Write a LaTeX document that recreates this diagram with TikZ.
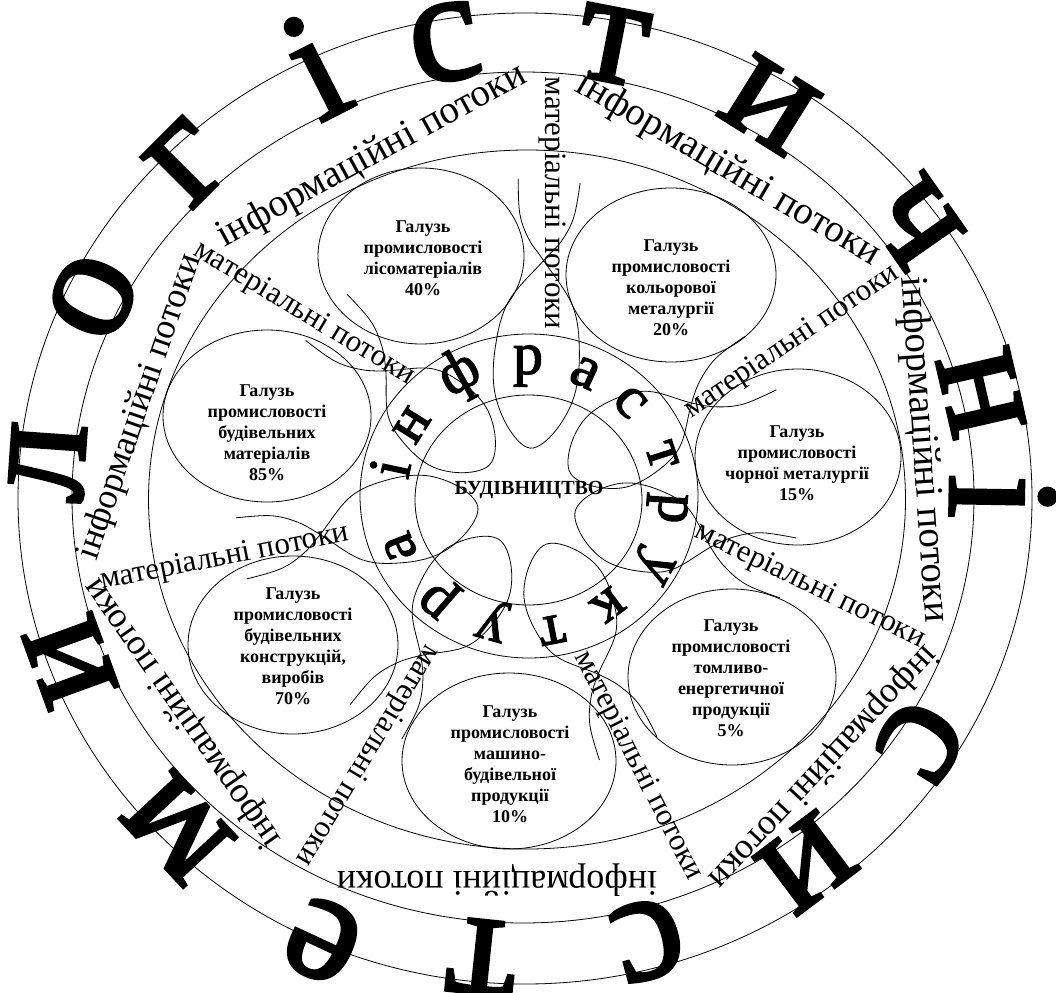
\documentclass[tikz,border=0pt]{standalone}
\usepackage{fontspec}
\setmainfont{Liberation Serif}
\newfontfamily\heavyser{Liberation Serif}[FakeBold=2]
\newcommand{\alphaloop}[2]{%
  \pgfmathsetmacro{\lpF}{(#2-50)/188}%
  \pgfmathsetmacro{\lpA}{50+145*\lpF}%
  \pgfmathsetmacro{\lpB}{50+100*\lpF}%
  \pgfmathsetmacro{\lpC}{50+55*\lpF}%
  \pgfmathsetmacro{\lpD}{50+18*\lpF}%
  \pgfmathsetmacro{\lpR}{#2+20}%
  \pgfmathsetmacro{\lpS}{#2+45}%
  \pgfmathsetmacro{\lpT}{#2+80}%
  \begin{scope}[shift={(527,498)}, rotate=#1]
    \draw[petal] plot[smooth, tension=0.6] coordinates {(\lpT,31) (\lpS,27) (\lpR,16) (#2,0) (\lpA,-32) (\lpB,-42) (\lpC,-40) (\lpD,-23) (50,0) (\lpD,23) (\lpC,40) (\lpB,42) (\lpA,32) (#2,0) (\lpR,-16) (\lpS,-27) (\lpT,-31)};
  \end{scope}}
\begin{document}
\begin{tikzpicture}[x=1pt,y=-1pt, line width=0.8pt,
  branch/.style={align=center, font=\bfseries\fontsize{18}{21}\selectfont, inner sep=0},
  big/.style={font=\heavyser\fontsize{160}{160}\selectfont, inner sep=0},
  infra/.style={font=\heavyser\fontsize{60}{60}\selectfont, inner sep=0},
  mat/.style={font=\fontsize{31}{31}\selectfont, inner sep=0},
  info/.style={font=\fontsize{36}{36}\selectfont, inner sep=0},
  infol/.style={font=\fontsize{39}{39}\selectfont, inner sep=0},
  petal/.style={line width=0.8pt}
]
\useasboundingbox (0,0) rectangle (1056,992);
% concentric rings
\draw (525,498.5) ellipse [x radius=507, y radius=485.5];
\draw (523,497.5) ellipse [x radius=451, y radius=425.5];
\draw (527,499.5) ellipse [x radius=378.5, y radius=349.5];
\draw (529,496) ellipse [x radius=169, y radius=162];
\draw (528.5,500) ellipse [x radius=113.5, y radius=105];
% branch ellipses
\draw (421,256) ellipse [x radius=103, y radius=88];
\draw (671,275) ellipse [x radius=105, y radius=87];
\draw (798,457) ellipse [x radius=103, y radius=88];
\draw (732,677) ellipse [x radius=104, y radius=88];
\draw (509,761) ellipse [x radius=107, y radius=88];
\draw (293,645) ellipse [x radius=105, y radius=89];
\draw (267,416) ellipse [x radius=104, y radius=86];
% loops
\alphaloop{86}{238}
\alphaloop{138}{190}
\alphaloop{190}{210}
\alphaloop{-124}{190}
\alphaloop{-68}{190}
\alphaloop{-15}{190}
\alphaloop{30}{190}
% branch texts
\node[branch] (b1) at (423,258) {Галузь\\промисловості\\лісоматеріалів\\40\%};
\node[branch] (b2) at (671,288) {Галузь\\промисловості\\кольорової\\металургії\\20\%};
\node[branch] (b3) at (797,463) {Галузь\\промисловості\\чорної металургії\\15\%};
\node[branch] (b4) at (731,678) {Галузь\\промисловості\\томливо-\\енергетичної\\продукції\\5\%};
\node[branch] (b5) at (510,764) {Галузь\\промисловості\\машино-\\будівельної\\продукції\\10\%};
\node[branch] (b6) at (293,646) {Галузь\\промисловості\\будівельних\\конструкцій,\\виробів\\70\%};
\node[branch] (b7) at (267,433) {Галузь\\промисловості\\будівельних\\матеріалів\\85\%};
\node[font=\bfseries\fontsize{20}{20}\selectfont, inner sep=0] (bud) at (529,490) {БУДІВНИЦТВО};
% material flows
\node[mat, rotate=-90] (m1) at (552,203) {матеріальні потоки};
\node[mat, rotate=-31] (m2) at (304,314) {матеріальні потоки};
\node[mat, rotate=34] (m3) at (792,342) {матеріальні потоки};
\node[mat, rotate=-26] (m4) at (810,586) {матеріальні потоки};
\node[mat, rotate=-63] (m5) at (638,766) {матеріальні потоки};
\node[mat, rotate=-121] (m6) at (367,755) {матеріальні потоки};
\node[mat, rotate=11] (m7) at (225,558) {матеріальні потоки};
% information flows
\node[infol, rotate=28.6] (i1) at (372,156) {інформаційні потоки};
\node[infol, rotate=-30.5] (i2) at (728,170) {інформаційні потоки};
\node[infol, rotate=-86] (i3) at (923,450) {інформаційні потоки};
\node[info, rotate=-133] (i4) at (823,766) {інформаційні потоки};
\node[info, rotate=180] (i5) at (497,880) {інформаційні потоки};
\node[info, rotate=125] (i6) at (183,713) {інформаційні потоки};
\node[info, rotate=71] (i7) at (140,407) {інформаційні потоки};
% outer big letters
\node[big, rotate=86] (L1) at (48,462) {л};
\node[big, rotate=65] (L2) at (93,297) {о};
\node[big, rotate=45] (L3) at (188,162) {г};
\node[big, rotate=27] (L4) at (315,66) {і};
\node[big, rotate=10] (L5) at (445,43) {с};
\node[big, rotate=-11] (L6) at (613,45) {т};
\node[big, rotate=-32] (L7) at (770,105) {и};
\node[big, rotate=-55] (L8) at (915,222) {ч};
\node[big, rotate=-77] (L9) at (981,393) {н};
\node[big, rotate=-91] (L10) at (1003,497) {і};
\node[big, rotate=-122] (L11) at (921,741) {с};
\node[big, rotate=-143] (L12) at (806,863) {и};
\node[big, rotate=-165] (L13) at (648,940) {с};
\node[big, rotate=-186] (L14) at (482,957) {т};
\node[big, rotate=-205] (L15) at (323,941) {е};
\node[big, rotate=-227] (L16) at (178,828) {м};
\node[big, rotate=-250] (L17) at (70,661) {и};
% infrastructure letters
\node[infra, rotate=78] (f1) at (390,468) {і};
\node[infra, rotate=58] (f2) at (412,425) {н};
\node[infra, rotate=29] (f3) at (460,375) {ф};
\node[infra, rotate=0] (f4) at (528,366) {р};
\node[infra, rotate=-25] (f5) at (585,373) {а};
\node[infra, rotate=-47] (f6) at (630,402) {с};
\node[infra, rotate=-72] (f7) at (662,455) {т};
\node[infra, rotate=-94] (f8) at (667,508) {р};
\node[infra, rotate=-118] (f9) at (652,565) {у};
\node[infra, rotate=-143] (f10) at (608,605) {к};
\node[infra, rotate=-169] (f11) at (552,630) {т};
\node[infra, rotate=-196] (f12) at (493,620) {у};
\node[infra, rotate=-221] (f13) at (440,597) {р};
\node[infra, rotate=-249] (f14) at (400,547) {а};
\end{tikzpicture}
\end{document}
